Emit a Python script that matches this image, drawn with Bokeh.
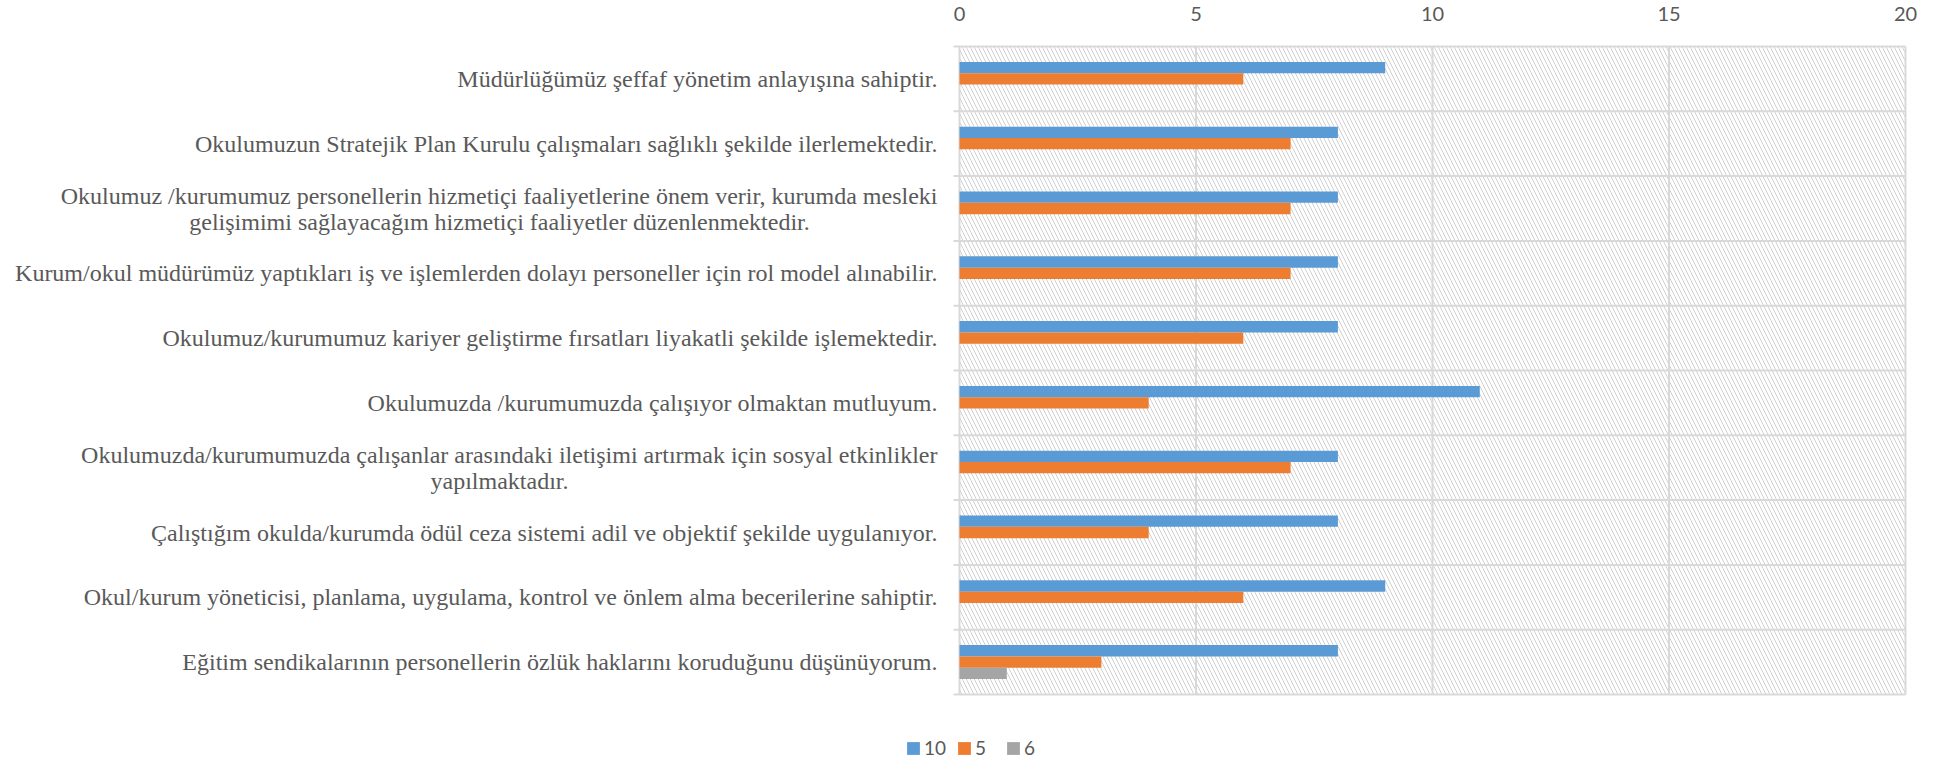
from bokeh.plotting import figure
from bokeh.models import (Range1d, FixedTicker, BoxAnnotation, Legend, LegendItem,
                          ColumnDataSource)
from bokeh.core.properties import value
from bokeh.transform import dodge
from bokeh.embed import file_html
from bokeh.resources import INLINE

categories = [
    "Müdürlüğümüz şeffaf yönetim anlayışına sahiptir.",
    "Okulumuzun Stratejik Plan Kurulu çalışmaları sağlıklı şekilde ilerlemektedir.",
    "Okulumuz /kurumumuz personellerin hizmetiçi faaliyetlerine önem verir, kurumda mesleki\ngelişimimi sağlayacağım hizmetiçi faaliyetler düzenlenmektedir.",
    "Kurum/okul müdürümüz yaptıkları iş ve işlemlerden dolayı personeller için rol model alınabilir.",
    "Okulumuz/kurumumuz kariyer geliştirme fırsatları liyakatli şekilde işlemektedir.",
    "Okulumuzda /kurumumuzda çalışıyor olmaktan mutluyum.",
    "Okulumuzda/kurumumuzda çalışanlar arasındaki iletişimi artırmak için sosyal etkinlikler\nyapılmaktadır.",
    "Çalıştığım okulda/kurumda ödül ceza sistemi adil ve objektif şekilde uygulanıyor.",
    "Okul/kurum yöneticisi, planlama, uygulama, kontrol ve önlem alma becerilerine sahiptir.",
    "Eğitim sendikalarının personellerin özlük haklarını koruduğunu düşünüyorum.",
]
series_names = ["10", "5", "6"]
values_10 = [9, 8, 8, 8, 8, 11, 8, 8, 9, 8]
values_5 = [6, 7, 7, 7, 6, 4, 7, 4, 6, 3]
values_6 = [0, 0, 0, 0, 0, 0, 0, 0, 0, 1]
x_ticks = [0, 5, 10, 15, 20]

# ---- layout / style constants (screen pixels) ----
W, H = 1942, 760
PLOT_L, PLOT_R = 959, 1905
PLOT_T, PLOT_B = 46, 694
FRAME_T, FRAME_B = 40, 760
LABEL_GAP = 22          # gap between category labels and axis line
LINE2_CENTER = 499      # x centre of wrapped second lines
LINE_SHIFT = 13         # half line spacing for wrapped labels
TICK_LEN = 6
LEGEND_LEFT, LEGEND_BOTTOM = 905, 1

colors = ["#5B9BD5", "#ED7D31", "#A5A5A5"]
GRID = "#d9d9d9"
TXT = "#595959"

n = len(categories)
xmin, xmax = x_ticks[0], x_ticks[-1]
px_x = (PLOT_R - PLOT_L) / (xmax - xmin)
px_y = (PLOT_B - PLOT_T) / n

centers = [i + 0.5 for i in range(n)]
bounds = list(range(n + 1))
src = ColumnDataSource(dict(y=centers, s10=values_10, s5=values_5, s6=values_6))

p = figure(width=W, height=H, output_backend="svg", toolbar_location=None,
           x_range=Range1d(xmin - PLOT_L / px_x, xmax + (W - PLOT_R) / px_x),
           y_range=Range1d(n + (FRAME_B - PLOT_B) / px_y, -(PLOT_T - FRAME_T) / px_y),
           x_axis_location="above", y_axis_location=None,
           min_border_left=0, min_border_right=0,
           min_border_top=FRAME_T, min_border_bottom=H - FRAME_B)
p.outline_line_color = None
p.background_fill_color = "white"
p.xgrid.visible = False
p.ygrid.visible = False

bg = BoxAnnotation(left=xmin, right=xmax, top=0, bottom=n, level="image",
                   fill_color="white", fill_alpha=1.0,
                   hatch_pattern="\\", hatch_color="#d0d0d0", hatch_scale=8,
                   hatch_weight=1, line_color=None)
p.add_layout(bg)

# gridlines / category boundaries (with small outward ticks at the axis)
p.segment(x0=x_ticks, y0=bounds[0], x1=x_ticks, y1=bounds[-1],
          line_color=GRID, line_width=2)
p.segment(x0=xmin - TICK_LEN / px_x, y0=bounds, x1=xmax, y1=bounds,
          line_color=GRID, line_width=2)

xa = p.xaxis[0]
xa.ticker = FixedTicker(ticks=x_ticks)
xa.axis_line_color = None
xa.major_tick_line_color = None
xa.minor_tick_line_color = None
xa.major_label_text_font = "Lato"
xa.major_label_text_font_size = "20px"
xa.major_label_text_color = TXT
xa.major_label_standoff = 14

# category labels (wrapped ones: first line right-aligned, second centred)
first = [c.split("\n")[0] for c in categories]
yoff1 = [-LINE_SHIFT if "\n" in c else 0 for c in categories]
lab1 = ColumnDataSource(dict(y=centers, text=first, yo=yoff1))
p.text(x=xmin, y="y", text="text", source=lab1, x_offset=-LABEL_GAP, y_offset="yo",
       text_align="right", text_baseline="middle",
       text_font=value("Liberation Serif"), text_font_size="24px", text_color=TXT)
sec_y = [yc for yc, c in zip(centers, categories) if "\n" in c]
sec_t = [c.split("\n")[1] for c in categories if "\n" in c]
lab2 = ColumnDataSource(dict(y=sec_y, text=sec_t))
p.text(x=xmin, y="y", text="text", source=lab2, x_offset=-(PLOT_L - LINE2_CENTER),
       y_offset=LINE_SHIFT, text_align="center", text_baseline="middle",
       text_font=value("Liberation Serif"), text_font_size="24px", text_color=TXT)

bar_h = 0.175
fields = ["s10", "s5", "s6"]
offsets = [-bar_h, 0.0, bar_h]
renderers = []
for f, off, col in zip(fields, offsets, colors):
    r = p.hbar(y=dodge("y", off, range=p.y_range), left=xmin, right=f, height=bar_h,
               source=src, fill_color=col, line_color=None)
    renderers.append(r)

legend = Legend(items=[LegendItem(label=nm, renderers=[r]) for nm, r in zip(series_names, renderers)],
                orientation="horizontal", location=(LEGEND_LEFT, LEGEND_BOTTOM),
                glyph_width=16, glyph_height=16, label_standoff=3, spacing=10,
                label_text_font="Lato", label_text_font_size="19px",
                label_text_color=TXT, padding=0, margin=0,
                border_line_color=None, background_fill_alpha=0)
p.add_layout(legend)

open("out.html", "w").write(file_html(p, INLINE))
